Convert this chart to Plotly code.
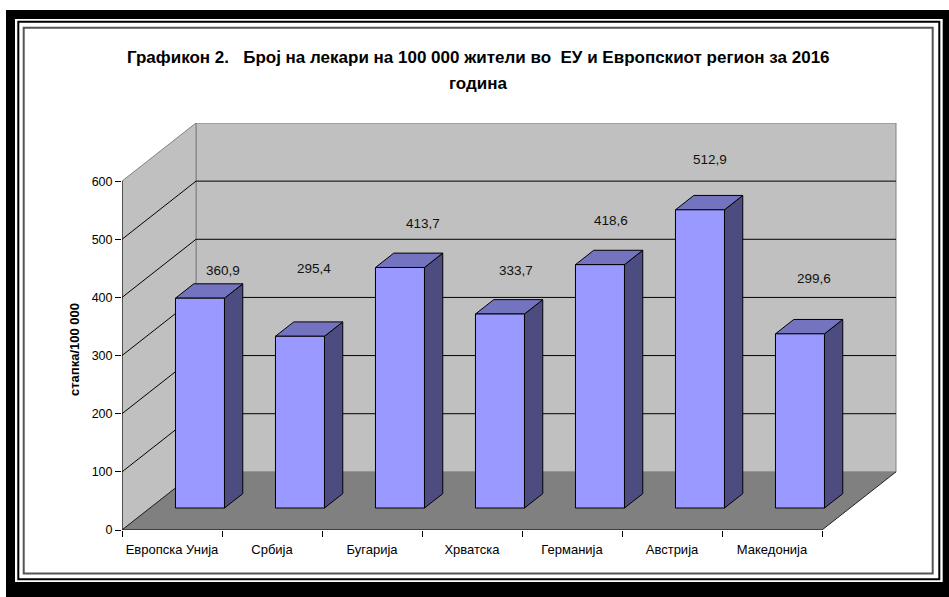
import plotly.graph_objects as go

# ---- data ----
countries = ["Европска Унија", "Србија", "Бугарија", "Хрватска",
             "Германија", "Австрија", "Македонија"]
doctors_per_100k = [360.9, 295.4, 413.7, 333.7, 418.6, 512.9, 299.6]
y_ticks = [0, 100, 200, 300, 400, 500, 600]

# ---- canvas / plot geometry ----
W, H = 949, 597
ML, MR, MT, MB = 122, 51, 123, 67
FONT = "Liberation Sans, Arial, sans-serif"

# 3-D box: depth offset of the back wall (x in category units, y in value units)
DX, DY = 0.74, 100.0
N = len(countries)
Y_TOP = 600
# bar placement inside the depth of the box
F_FRONT, F_BACK = 0.378, 0.625
BAR_W = 0.49

FRONT_C = "#9999FF"
TOP_C = "#7373BF"
SIDE_C = "#4C4C80"
WALL_C = "#C0C0C0"
FLOOR_C = "#808080"


def paper_x(px):
    return (px - ML) / (W - ML - MR)


def paper_y(py):
    return (H - MB - py) / (H - MT - MB)


fig = go.Figure()
shapes = []

# ---- page frame ----
shapes.append(dict(type="rect", xref="paper", yref="paper", layer="below",
                   x0=paper_x(6), x1=paper_x(952), y0=paper_y(10), y1=paper_y(600),
                   fillcolor="black", line=dict(width=0)))
shapes.append(dict(type="rect", xref="paper", yref="paper", layer="below",
                   x0=paper_x(15), x1=paper_x(942.7), y0=paper_y(19), y1=paper_y(582),
                   fillcolor="white", line=dict(width=0)))
shapes.append(dict(type="rect", xref="paper", yref="paper", layer="below",
                   x0=paper_x(18.3), x1=paper_x(939.3), y0=paper_y(21.8), y1=paper_y(579.2),
                   fillcolor="white", line=dict(color="black", width=2)))
shapes.append(dict(type="rect", xref="paper", yref="paper", layer="below",
                   x0=paper_x(23.7), x1=paper_x(932.7), y0=paper_y(27.7), y1=paper_y(573.5),
                   fillcolor="white", line=dict(color="#555555", width=2)))


def poly(pts):
    return "M " + " L ".join(f"{x},{y}" for x, y in pts) + " Z"


# ---- walls and floor ----
shapes.append(dict(type="path", xref="x", yref="y", layer="below",
                   path=poly([(DX, DY), (N + DX, DY), (N + DX, Y_TOP + DY), (DX, Y_TOP + DY)]),
                   fillcolor=WALL_C, line=dict(color="#808080", width=1)))
shapes.append(dict(type="path", xref="x", yref="y", layer="below",
                   path=poly([(0, 0), (DX, DY), (DX, Y_TOP + DY), (0, Y_TOP)]),
                   fillcolor=WALL_C, line=dict(color="#808080", width=1)))
shapes.append(dict(type="path", xref="x", yref="y", layer="below",
                   path=poly([(0, 0), (N, 0), (N + DX, DY), (DX, DY)]),
                   fillcolor=FLOOR_C, line=dict(width=0)))
# floor side edges
shapes.append(dict(type="line", xref="x", yref="y", layer="below",
                   x0=0, x1=DX, y0=0, y1=DY, line=dict(color="#202020", width=1)))
shapes.append(dict(type="line", xref="x", yref="y", layer="below",
                   x0=N, x1=N + DX, y0=0, y1=DY, line=dict(color="#202020", width=1)))

# gridlines on the back wall and the matching diagonals on the side wall
for v in y_ticks[1:-1]:
    shapes.append(dict(type="line", xref="x", yref="y", layer="below",
                       x0=DX, x1=N + DX, y0=v + DY, y1=v + DY,
                       line=dict(color="black", width=1)))
    shapes.append(dict(type="line", xref="x", yref="y", layer="below",
                       x0=0, x1=DX, y0=v, y1=v + DY,
                       line=dict(color="black", width=1)))

# front axis lines
shapes.append(dict(type="line", xref="x", yref="y", layer="below",
                   x0=0, x1=0, y0=0, y1=Y_TOP, line=dict(color="black", width=1)))
shapes.append(dict(type="line", xref="x", yref="y", layer="below",
                   x0=0, x1=N, y0=0, y1=0, line=dict(color="black", width=1)))

# ---- 3-D columns ----
ddx = (F_BACK - F_FRONT) * DX
ddy = (F_BACK - F_FRONT) * DY
for i, v in enumerate(doctors_per_100k):
    c = i + 0.5 + F_FRONT * DX
    xl, xr = c - BAR_W / 2, c + BAR_W / 2
    yb = F_FRONT * DY
    yt = yb + v
    faces = [
        ([xr, xr + ddx, xr + ddx, xr, xr], [yb, yb + ddy, yt + ddy, yt, yb], SIDE_C),
        ([xl, xr, xr + ddx, xl + ddx, xl], [yt, yt, yt + ddy, yt + ddy, yt], TOP_C),
        ([xl, xr, xr, xl, xl], [yb, yb, yt, yt, yb], FRONT_C),
    ]
    for xs, ys, col in faces:
        fig.add_trace(go.Scatter(x=xs, y=ys, mode="lines", fill="toself",
                                 fillcolor=col, line=dict(color="black", width=1),
                                 hoverinfo="skip", showlegend=False))

# ---- value labels ----
label_shift = [(23, 28), (14, 68), (23, 44), (16, 44), (11, 44), (10, 50), (14, 55)]
annotations = []
for i, v in enumerate(doctors_per_100k):
    c = i + 0.5 + F_FRONT * DX
    yt = F_FRONT * DY + v
    sx, sy = label_shift[i]
    annotations.append(dict(x=c, y=yt, xref="x", yref="y", xshift=sx, yshift=sy,
                            text=f"{v:.1f}".replace(".", ","), showarrow=False,
                            font=dict(family=FONT, size=13.5, color="#111111")))

# title (two lines)
annotations.append(dict(xref="paper", yref="paper", x=paper_x(478), y=paper_y(57),
                        xanchor="center", yanchor="middle", showarrow=False,
                        text="<b>Графикон 2.\u00a0\u00a0 Број на лекари на 100 000 жители во\u00a0 ЕУ и Европскиот регион за 2016</b>",
                        font=dict(family=FONT, size=17, color="black")))
annotations.append(dict(xref="paper", yref="paper", x=paper_x(478), y=paper_y(83),
                        xanchor="center", yanchor="middle", showarrow=False,
                        text="<b>година</b>",
                        font=dict(family=FONT, size=17, color="black")))
# y-axis title
annotations.append(dict(xref="paper", yref="paper", x=paper_x(74), y=paper_y(350),
                        xanchor="center", yanchor="middle", showarrow=False, textangle=-90,
                        text="<b>стапка/100 000</b>",
                        font=dict(family=FONT, size=13, color="black")))

fig.update_layout(
    width=W, height=H,
    margin=dict(l=ML, r=MR, t=MT, b=MB, pad=0),
    paper_bgcolor="white", plot_bgcolor="rgba(0,0,0,0)",
    shapes=shapes, annotations=annotations, showlegend=False,
    xaxis=dict(range=[0, N + 0.76], showgrid=False, zeroline=False, showline=False,
               tickmode="array", tickvals=[i + 0.5 for i in range(N)], ticktext=countries,
               ticks="", ticklabelstandoff=10,
               tickfont=dict(family=FONT, size=13, color="black"),
               minor=dict(tickmode="array", tickvals=list(range(N + 1)), ticks="outside",
                          ticklen=6, tickcolor="black", showgrid=False),
               fixedrange=True),
    yaxis=dict(range=[0, Y_TOP + DY], showgrid=False, zeroline=False, showline=False,
               tickmode="array", tickvals=y_ticks, ticks="outside", ticklen=6,
               tickcolor="black", tickfont=dict(family=FONT, size=12.5, color="black"),
               fixedrange=True),
)

fig.write_html("out.html")
